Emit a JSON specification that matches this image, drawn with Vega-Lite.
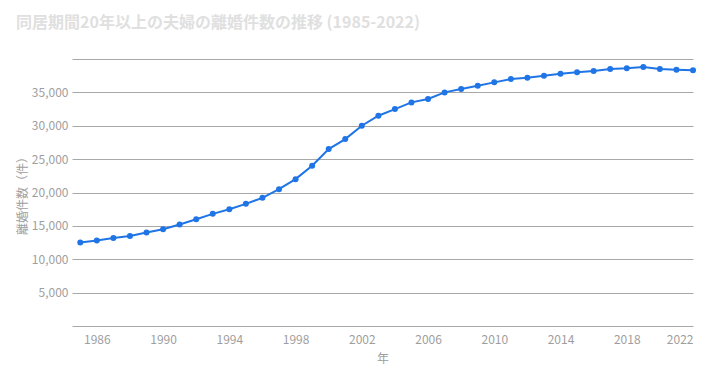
{
  "$schema": "https://vega.github.io/schema/vega-lite/v6.json",
  "autosize": "none",
  "width": 621,
  "height": 267,
  "padding": {"left": 72, "top": 59, "right": 15, "bottom": 54},
  "background": "white",
  "config": {
    "font": "Noto Sans CJK JP",
    "view": {"stroke": null}
  },
  "title": {
    "text": "同居期間20年以上の夫婦の離婚件数の推移 (1985-2022)",
    "anchor": "start",
    "frame": "group",
    "dx": -56,
    "offset": 28,
    "fontSize": 16,
    "fontWeight": "bold",
    "color": "#e0e0e0",
    "font": "Noto Sans CJK JP"
  },
  "data": {
    "values": [
      {"year": 1985, "count": 12500},
      {"year": 1986, "count": 12800},
      {"year": 1987, "count": 13200},
      {"year": 1988, "count": 13500},
      {"year": 1989, "count": 14000},
      {"year": 1990, "count": 14500},
      {"year": 1991, "count": 15200},
      {"year": 1992, "count": 16000},
      {"year": 1993, "count": 16800},
      {"year": 1994, "count": 17500},
      {"year": 1995, "count": 18300},
      {"year": 1996, "count": 19200},
      {"year": 1997, "count": 20500},
      {"year": 1998, "count": 22000},
      {"year": 1999, "count": 24000},
      {"year": 2000, "count": 26500},
      {"year": 2001, "count": 28000},
      {"year": 2002, "count": 30000},
      {"year": 2003, "count": 31500},
      {"year": 2004, "count": 32500},
      {"year": 2005, "count": 33500},
      {"year": 2006, "count": 34000},
      {"year": 2007, "count": 35000},
      {"year": 2008, "count": 35500},
      {"year": 2009, "count": 36000},
      {"year": 2010, "count": 36500},
      {"year": 2011, "count": 37000},
      {"year": 2012, "count": 37200},
      {"year": 2013, "count": 37500},
      {"year": 2014, "count": 37800},
      {"year": 2015, "count": 38000},
      {"year": 2016, "count": 38200},
      {"year": 2017, "count": 38500},
      {"year": 2018, "count": 38600},
      {"year": 2019, "count": 38800},
      {"year": 2020, "count": 38500},
      {"year": 2021, "count": 38400},
      {"year": 2022, "count": 38300}
    ]
  },
  "encoding": {
    "x": {
      "field": "year",
      "type": "quantitative",
      "scale": {"domain": [1984.5, 2022], "nice": false, "zero": false},
      "axis": {
        "title": "年",
        "values": [1986, 1990, 1994, 1998, 2002, 2006, 2010, 2014, 2018, 2022],
        "format": "d",
        "grid": false,
        "ticks": false,
        "domain": false,
        "labelFontSize": 12,
        "labelColor": "#9e9e9e",
        "labelPadding": 8,
        "labelAlign": {"condition": {"test": "datum.value == 2022", "value": "right"}, "value": "center"},
        "labelFlush": false,
        "titleFontSize": 12,
        "titleFontWeight": "normal",
        "titleColor": "#9e9e9e",
        "titlePadding": 8
      }
    },
    "y": {
      "field": "count",
      "type": "quantitative",
      "scale": {"domain": [0, 40000], "nice": false},
      "axis": {
        "title": "離婚件数（件）",
        "values": [0, 5000, 10000, 15000, 20000, 25000, 30000, 35000, 40000],
        "labelExpr": "datum.value == 0 || datum.value == 40000 ? '' : format(datum.value, ',')",
        "grid": true,
        "gridColor": "#a8a8a8",
        "gridWidth": 1,
        "ticks": false,
        "domain": false,
        "labelFontSize": 12,
        "labelColor": "#9e9e9e",
        "labelPadding": 4,
        "titleFontSize": 12,
        "titleFontWeight": "normal",
        "titleColor": "#9e9e9e",
        "titlePadding": 2
      }
    }
  },
  "layer": [
    {"mark": {"type": "line", "color": "#1f74e6", "strokeWidth": 2}},
    {"mark": {"type": "circle", "color": "#1f74e6", "opacity": 1, "size": 36}}
  ]
}
